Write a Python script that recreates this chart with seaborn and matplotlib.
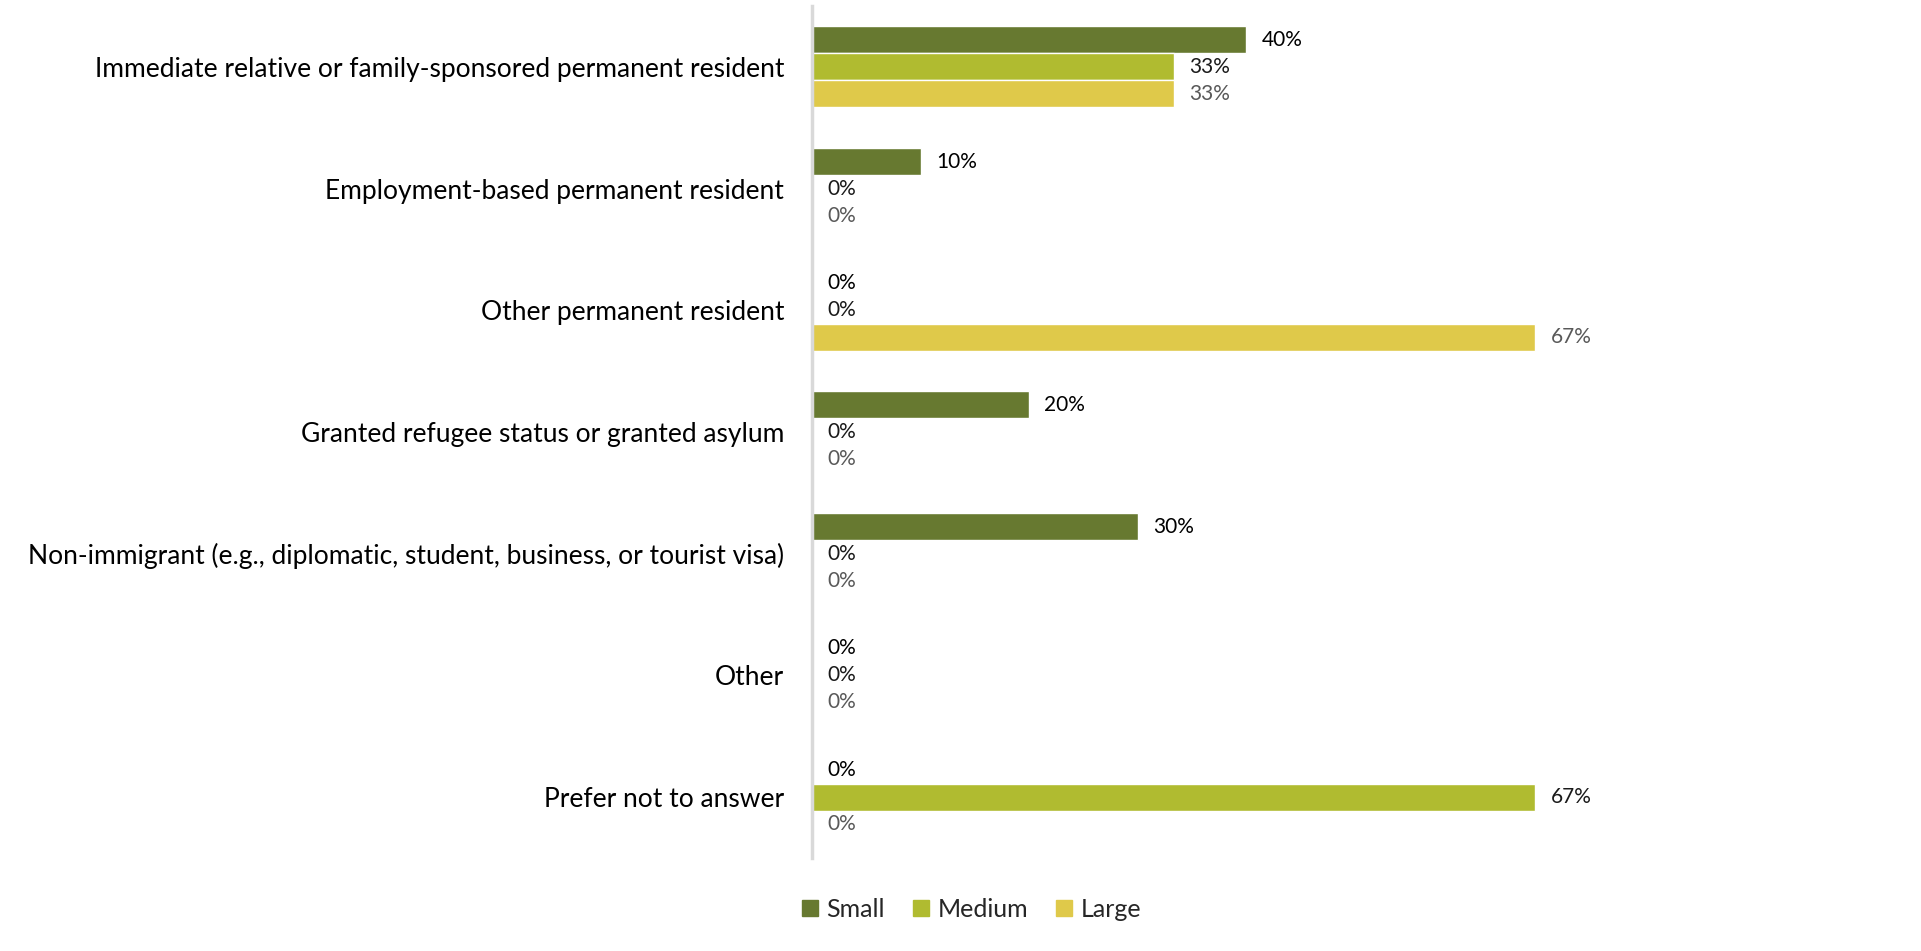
import matplotlib
matplotlib.use("Agg")
import matplotlib.pyplot as plt
import seaborn as sns
import pandas as pd
from matplotlib.lines import Line2D

categories = [
    "Immediate relative or family-sponsored permanent resident",
    "Employment-based permanent resident",
    "Other permanent resident",
    "Granted refugee status or granted asylum",
    "Non-immigrant (e.g., diplomatic, student, business, or tourist visa)",
    "Other",
    "Prefer not to answer",
]
sizes = ["Small", "Medium", "Large"]
small = [40, 10, 0, 20, 30, 0, 0]
medium = [33.33, 0, 0, 0, 0, 0, 66.67]
large = [33.33, 0, 66.67, 0, 0, 0, 0]

colors = {"Small": "#677930", "Medium": "#B0BB30", "Large": "#DFC94A"}
label_colors = {"Small": "#000000", "Medium": "#1a1a1a", "Large": "#595959"}

df = pd.DataFrame({
    "category": categories * 3,
    "size": ["Small"] * 7 + ["Medium"] * 7 + ["Large"] * 7,
    "value": small + medium + large,
})

sns.set_theme(style="white")
plt.rcParams["font.family"] = ["Lato", "DejaVu Sans"]

fig = plt.figure(figsize=(19.21, 9.51), dpi=100)
ax = fig.add_axes([0.4227, 0.0978, 0.4519, 0.8959])

sns.barplot(data=df, y="category", x="value", hue="size", order=categories,
            hue_order=sizes, palette=colors, orient="h", width=0.666,
            dodge=True, saturation=1, ax=ax, legend=False)

for cont, s in zip(ax.containers, sizes):
    vals = df[df["size"] == s]["value"].tolist()
    ax.bar_label(cont, labels=[f"{v:.0f}%" for v in vals], padding=11,
                 fontsize=15, color=label_colors[s])

ax.set_xlim(0, 80)
ax.set_ylim(6.5, -0.5)
ax.set_xlabel("")
ax.set_ylabel("")
ax.set_xticks([])
ax.tick_params(axis="y", length=0, pad=20, labelsize=19, labelcolor="#000000")
for side in ["top", "right", "bottom"]:
    ax.spines[side].set_visible(False)
ax.spines["left"].set_color("#D9D9D9")
ax.spines["left"].set_linewidth(2.5)

handles = [Line2D([0], [0], marker="s", linestyle="", markersize=11,
                  markerfacecolor=colors[s], markeredgecolor=colors[s])
           for s in sizes]
fig.legend(handles, sizes, loc="center", bbox_to_anchor=(0.503, 0.044),
           ncol=3, frameon=False, fontsize=18, handletextpad=-0.1,
           columnspacing=0.7, handlelength=1.5)

fig.savefig("out.png", dpi=100, facecolor="white")
